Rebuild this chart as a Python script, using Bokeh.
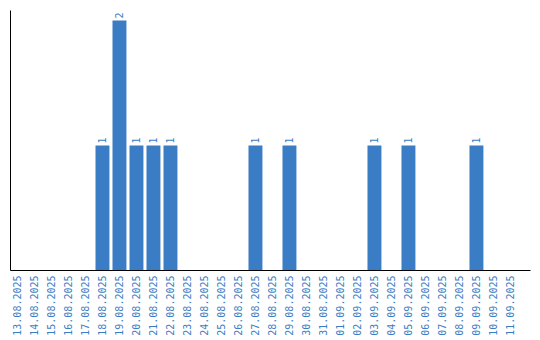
import math
from bokeh.plotting import figure
from bokeh.models import ColumnDataSource, Range1d, FixedTicker
from bokeh.core.properties import value
from bokeh.embed import file_html
from bokeh.resources import INLINE

dates = ["13.08.2025", "14.08.2025", "15.08.2025", "16.08.2025", "17.08.2025",
         "18.08.2025", "19.08.2025", "20.08.2025", "21.08.2025", "22.08.2025",
         "23.08.2025", "24.08.2025", "25.08.2025", "26.08.2025", "27.08.2025",
         "28.08.2025", "29.08.2025", "30.08.2025", "31.08.2025", "01.09.2025",
         "02.09.2025", "03.09.2025", "04.09.2025", "05.09.2025", "06.09.2025",
         "07.09.2025", "08.09.2025", "09.09.2025", "10.09.2025", "11.09.2025"]
counts = [0, 0, 0, 0, 0,
          1, 2, 1, 1, 1,
          0, 0, 0, 0, 1,
          0, 1, 0, 0, 0,
          0, 1, 0, 1, 0,
          0, 0, 1, 0, 0]

BLUE = "#3b7dc4"

idx = list(range(len(dates)))
nz = [i for i in idx if counts[i] > 0]
src = ColumnDataSource(dict(x=[i for i in nz], y=[counts[i] for i in nz],
                            lbl=[str(counts[i]) for i in nz]))

p = figure(frame_width=520, frame_height=260, output_backend="svg",
           toolbar_location=None,
           x_range=Range1d(-0.41, 30.18), y_range=Range1d(0, 2.08),
           min_border_left=10, min_border_top=10, min_border_right=10,
           min_border_bottom=5)
p.outline_line_color = None
p.grid.visible = False
p.background_fill_color = "white"
p.border_fill_color = "white"

p.vbar(x="x", top="y", width=0.82, bottom=0, source=src,
       fill_color=BLUE, line_color=None)
p.text(x="x", y="y", text="lbl", source=src, angle=math.pi / 2,
       text_align="left", text_baseline="middle", y_offset=-2,
       text_font=value("DejaVu Sans Mono"), text_font_size="10px",
       text_color=BLUE)

xa = p.xaxis[0]
xa.ticker = FixedTicker(ticks=idx)
xa.major_label_overrides = {i: d for i, d in zip(idx, dates)}
xa.major_label_orientation = math.pi / 2
xa.major_label_text_font = "DejaVu Sans Mono"
xa.major_label_text_font_size = "10px"
xa.major_label_text_color = BLUE
xa.major_tick_line_color = None
xa.minor_tick_line_color = None
xa.major_tick_out = 0
xa.major_label_standoff = 5
xa.axis_line_color = "black"

ya = p.yaxis[0]
ya.ticker = FixedTicker(ticks=[], minor_ticks=[])
ya.major_tick_line_color = None
ya.minor_tick_line_color = None
ya.major_tick_out = 0
ya.major_label_standoff = 0
ya.axis_line_color = "black"

open("out.html", "w").write(file_html(p, INLINE))
